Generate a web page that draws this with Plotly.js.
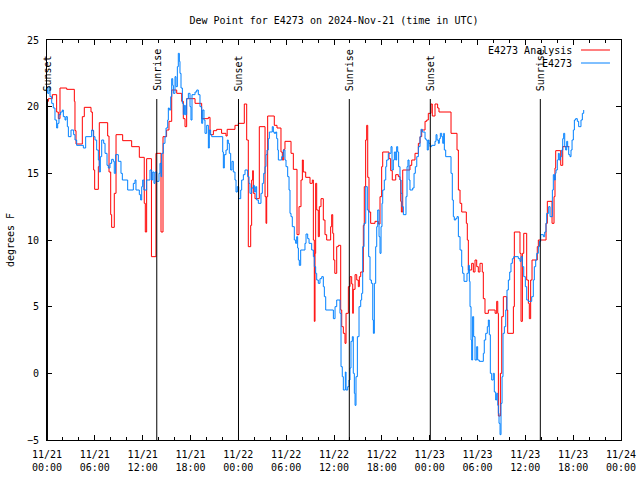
<!DOCTYPE html>
<html>
<head>
<meta charset="utf-8">
<script src="https://cdn.plot.ly/plotly-3.0.1.min.js"></script>
<style>html,body{margin:0;padding:0;background:#fff;}#chart{width:640px;height:480px;}</style>
</head>
<body>
<div id="chart"></div>
<script>
// Hours since 2024-11-21 00:00 UTC
var analysisHours = [0.0,0.17,0.67,1.21,1.42,1.63,2.47,3.43,3.51,3.64,4.43,4.68,5.52,5.69,5.85,5.98,6.44,6.56,7.61,7.78,7.99,8.11,8.44,8.66,9.49,10.62,11.58,12.2,12.33,12.5,13.1,13.67,14.3,14.55,15.0,15.3,15.64,16.27,16.9,17.1,17.31,17.52,18.57,19.4,20.24,20.45,20.87,21.28,21.9,22.45,22.6,23.58,24.0,24.75,25.05,25.25,25.55,25.67,25.8,25.88,26.09,26.63,27.35,27.47,27.56,27.68,28.51,28.85,29.35,29.52,29.69,29.85,30.61,30.9,31.36,31.61,31.86,32.03,32.15,32.45,32.99,33.28,33.41,33.53,33.62,33.7,33.83,34.03,34.16,34.37,34.66,34.87,35.08,35.58,35.71,35.84,35.96,36.1,36.34,36.55,36.84,36.97,37.17,37.38,37.51,37.8,38.01,38.22,38.35,38.42,38.64,38.85,39.05,39.18,39.35,39.68,39.8,39.97,40.1,40.23,40.39,40.6,41.14,41.56,41.77,41.98,42.11,42.9,43.11,43.31,43.74,44.07,44.28,44.37,44.45,44.62,45.53,45.75,46.16,46.58,46.79,47.0,47.42,47.63,47.83,48.17,48.33,48.67,49.0,49.17,50.68,51.43,51.6,51.81,52.02,52.6,52.72,52.85,53.27,53.48,53.69,53.9,54.1,54.31,54.6,54.73,54.94,55.36,56.21,56.41,56.54,56.62,56.87,57.04,57.24,57.66,57.79,58.5,58.62,59.33,59.46,59.63,59.8,60.17,60.38,60.5,60.67,60.84,61.5,61.63,62.6,62.76,63.35,63.6,63.72,63.81,64.44,64.69,65.52];
var analysisDewF = [20.4,20.6,20.9,19.6,19.1,21.4,21.3,20.4,18.2,17.2,19.25,19.95,19.6,18.2,15.25,13.8,15.5,18.8,17.8,15.1,11.9,10.95,13.5,17.9,17.45,17.0,16.2,12.75,10.6,16.1,8.75,16.5,10.6,17.75,18.25,18.9,21.25,21.0,20.4,19.1,18.5,20.6,20.25,19.1,19.2,17.9,18.2,18.3,18.0,17.8,18.3,18.6,18.75,20.2,17.5,9.5,11.1,14.5,15.2,13.5,13.1,18.5,13.25,11.25,13.25,19.3,18.6,18.4,16.6,16.0,16.8,17.4,16.5,15.3,10.4,12.5,14.5,16.0,15.1,14.7,14.25,14.5,10.0,3.9,9.0,14.25,12.25,10.25,12.5,13.1,11.5,10.4,10.0,11.0,11.9,10.5,8.5,7.5,9.5,9.6,4.75,3.5,3.0,2.25,4.5,6.5,7.25,6.7,4.5,6.3,7.4,7.0,6.5,7.25,7.6,11.1,14.0,17.5,18.6,14.7,12.1,11.25,11.4,11.2,13.25,15.5,16.6,16.1,15.2,14.5,14.9,14.75,14.5,12.9,12.1,15.25,15.6,16.0,16.5,17.25,17.75,18.25,18.9,19.0,19.5,20.2,19.3,20.2,19.9,19.6,18.0,16.75,13.75,12.75,12.1,11.25,10.0,7.75,8.25,7.6,8.5,8.0,7.6,8.25,7.6,5.6,4.5,4.75,4.5,5.4,4.5,-3.2,0.0,4.25,5.75,4.75,3.0,5.0,10.6,9.0,3.9,9.0,10.5,7.0,5.25,4.1,7.0,8.5,9.5,10.0,11.25,12.9,11.25,13.25,15.4,16.7,15.6,17.0,17.0];

var obsHours = [0.0,0.08,0.25,0.38,0.59,0.79,1.0,1.21,1.34,1.5,1.71,1.92,2.05,2.26,2.38,2.55,2.68,3.01,3.34,3.51,3.72,4.56,4.85,5.6,5.81,6.02,6.23,6.44,6.56,6.69,6.86,7.11,7.28,7.53,7.69,7.9,8.11,8.32,8.44,8.61,8.95,9.28,9.45,10.12,10.83,11.04,11.16,11.58,11.75,11.88,12.0,12.15,12.5,12.92,13.13,13.26,13.42,13.55,13.76,14.05,14.17,14.3,14.38,14.59,14.8,14.93,15.14,15.22,15.34,15.52,15.64,15.77,15.85,16.06,16.18,16.35,16.47,16.6,16.68,16.81,16.98,17.1,17.23,17.35,17.52,17.73,17.94,18.06,18.19,18.57,18.78,18.98,19.19,19.4,19.53,19.69,19.82,20.03,20.24,20.36,20.53,20.66,22.04,22.12,22.24,22.45,22.62,22.74,22.87,23.04,23.2,23.37,23.58,23.71,23.87,24.05,24.3,24.42,24.63,24.84,25.17,25.34,25.46,25.67,25.88,26.01,26.18,26.3,26.51,26.84,27.01,27.18,27.35,27.47,27.6,27.76,27.89,28.26,28.39,28.51,28.68,28.81,28.94,29.02,29.44,29.64,29.85,29.98,30.19,30.36,30.48,30.61,30.77,31.02,31.19,31.32,31.44,31.53,31.65,31.82,32.36,32.49,32.7,32.87,33.2,33.41,33.53,33.7,33.83,34.03,34.24,34.46,34.66,34.79,34.96,35.92,36.13,36.34,36.75,36.88,37.04,37.17,37.42,37.51,37.72,37.88,38.01,38.13,38.3,38.42,38.55,38.64,38.76,38.93,39.14,39.35,39.47,39.6,39.77,39.98,40.18,40.35,40.52,40.69,40.86,40.94,41.06,41.23,41.36,41.48,41.65,41.77,41.9,42.02,42.11,42.31,42.49,42.61,42.81,43.15,43.28,43.44,43.57,43.74,43.86,43.99,44.11,44.28,44.41,44.53,44.7,45.03,45.16,45.28,45.41,45.53,45.87,46.04,46.2,46.38,46.58,46.79,46.91,47.08,47.42,47.54,47.7,47.83,47.92,48.04,48.25,48.67,48.8,48.92,49.09,49.21,49.34,49.51,49.64,49.76,49.84,50.01,50.68,50.84,50.97,51.09,51.26,51.43,51.6,51.81,52.02,52.14,52.31,52.68,52.85,52.98,53.06,53.19,53.27,53.39,53.52,53.69,53.9,54.02,54.22,54.73,54.85,55.03,55.23,55.36,55.48,55.61,55.78,55.98,56.11,56.28,56.41,56.54,56.62,56.7,56.83,56.95,57.08,57.2,57.37,57.54,57.7,57.87,58.04,58.2,58.37,58.54,59.12,59.33,59.46,59.63,59.8,60.0,60.17,60.38,60.8,61.0,61.13,61.3,61.43,61.63,61.76,61.93,62.26,62.43,62.59,62.68,62.93,63.1,63.39,63.51,63.64,63.76,63.85,64.01,64.14,64.26,64.39,64.56,64.69,64.81,64.94,65.06,65.19,65.31,65.44,65.6,65.73,65.86,66.02,66.15,66.31,66.52,66.69,66.85,66.98,67.15,67.32];
var obsDewF = [21.25,21.0,21.5,20.75,20.25,19.9,19.0,18.4,18.75,19.4,19.6,19.75,19.25,19.0,19.25,18.5,17.75,18.25,17.9,17.5,17.1,16.9,17.75,18.25,17.75,17.5,16.75,16.0,15.1,16.25,17.5,17.25,16.5,15.6,15.4,15.75,16.05,15.9,15.0,16.4,15.9,15.0,14.5,13.75,14.25,14.5,13.75,13.4,13.0,14.0,14.5,13.75,14.5,15.25,14.5,15.1,14.25,15.1,14.4,15.0,15.75,14.75,16.5,17.25,17.75,18.4,19.0,19.9,19.75,20.75,22.1,21.6,21.0,22.25,21.5,23.0,24.0,23.4,22.5,21.4,20.25,19.4,20.1,19.4,20.6,21.0,20.0,19.0,20.9,21.1,21.25,20.9,20.0,18.75,19.75,19.0,18.0,18.6,16.9,18.25,17.9,17.75,16.6,15.4,16.4,16.75,17.5,17.25,16.5,15.25,15.9,15.1,14.5,13.6,14.0,13.1,13.75,14.5,14.9,15.25,14.75,14.25,13.5,13.9,14.1,13.6,14.0,13.0,12.75,13.5,14.25,15.0,15.5,16.4,16.75,17.6,18.1,18.5,18.1,18.0,18.1,17.6,16.75,16.0,16.25,16.75,16.0,15.5,14.75,13.75,12.0,11.75,11.0,10.0,9.75,10.25,9.4,8.5,8.1,9.25,9.75,10.45,10.1,9.75,9.25,8.75,8.0,7.5,7.0,6.75,7.1,7.25,6.5,5.75,4.75,4.1,5.0,5.5,4.5,0.5,-0.25,-1.25,0.1,-1.25,-1.0,-0.5,0.4,2.4,2.75,0.0,-1.5,-2.4,-0.25,2.75,5.0,5.5,6.0,9.5,11.25,14.0,12.25,8.75,7.0,6.75,4.0,3.0,6.75,9.5,11.0,12.25,10.25,9.0,11.0,12.75,13.75,14.5,15.5,16.0,16.5,17.0,15.25,16.0,16.6,16.0,17.0,16.6,15.5,14.5,13.5,12.5,11.9,13.25,15.5,16.0,14.5,13.75,13.9,15.0,15.5,16.25,17.0,17.75,18.3,18.1,17.6,17.5,16.75,17.5,17.25,17.0,17.1,17.4,17.9,17.5,17.25,17.6,18.0,17.75,17.25,18.0,16.75,16.25,15.0,13.0,11.75,11.5,11.6,11.75,10.25,9.25,8.0,7.5,6.9,7.5,8.1,6.9,5.0,2.5,1.0,4.25,2.75,1.0,2.0,1.0,0.9,1.5,2.5,3.0,3.5,4.0,2.9,0.0,-0.5,0.0,-1.4,-2.0,-1.5,-2.4,-3.0,-3.75,-4.6,-2.25,-0.25,3.0,3.5,4.75,6.25,7.0,7.6,8.25,8.6,8.75,8.6,8.4,8.75,8.0,7.25,6.5,5.5,5.4,5.75,7.0,8.0,8.5,9.0,9.5,9.9,10.4,10.25,10.6,11.25,12.0,12.5,11.75,13.75,14.9,14.5,15.0,15.25,16.0,16.5,16.0,16.25,16.75,17.6,18.0,17.0,16.75,17.4,17.0,16.4,16.25,16.75,17.5,18.25,19.0,19.1,18.9,18.5,18.5,19.0,19.5,19.75];

var eventHours = [0.06, 13.77, 24.02, 37.92, 48.08, 61.88];
var eventLabels = ["Sunset", "Sunrise", "Sunset", "Sunrise", "Sunset", "Sunrise"];
var seriesNames = ["E4273 Analysis", "E4273"];
var seriesColors = ["#ff0000", "#0080ff"];

var T0 = Date.UTC(2024, 10, 21, 0, 0, 0);
function toTime(h) {
  var d = new Date(T0 + Math.round(h * 3600000));
  return d.toISOString().replace('T', ' ').slice(0, 19);
}

var FONT = "DejaVu Sans Mono, monospace";
var fontSize = 10;

var traces = [
  {x: analysisHours.map(toTime), y: analysisDewF, type: 'scatter', mode: 'lines',
   line: {color: seriesColors[0], width: 1, shape: 'hv'}, name: seriesNames[0], showlegend: false},
  {x: obsHours.map(toTime), y: obsDewF, type: 'scatter', mode: 'lines',
   line: {color: seriesColors[1], width: 1, shape: 'hv'}, name: seriesNames[1], showlegend: false}
];

var shapes = [];
var annotations = [];
eventHours.forEach(function (h, i) {
  shapes.push({type: 'line', xref: 'x', yref: 'paper', x0: toTime(h), x1: toTime(h), y0: 0, y1: 0.8525,
               line: {color: '#000', width: 1}});
  annotations.push({xref: 'x', yref: 'paper', x: toTime(h), y: 0.8675, xanchor: 'center', yanchor: 'bottom',
                    text: eventLabels[i], textangle: -90, showarrow: false, xshift: 1,
                    font: {family: FONT, size: fontSize, color: '#000'}});
});

// legend (text on the left, sample line on the right, like the original)
var legY = [0.975, 0.9425];
seriesNames.forEach(function (nm, i) {
  annotations.push({xref: 'paper', yref: 'paper', x: 0.9181, y: legY[i], xanchor: 'right', yanchor: 'middle',
                    text: nm, showarrow: false, font: {family: FONT, size: fontSize, color: '#000'}});
  shapes.push({type: 'line', xref: 'paper', yref: 'paper', x0: 0.9303, x1: 0.9808, y0: legY[i], y1: legY[i],
               line: {color: seriesColors[i], width: 1}});
});

var layout = {
  width: 640, height: 480,
  margin: {l: 47, r: 19, t: 40, b: 40},
  paper_bgcolor: '#fff', plot_bgcolor: '#fff',
  font: {family: FONT, size: fontSize, color: '#000'},
  title: {text: 'Dew Point for E4273 on 2024-Nov-21 (time in UTC)', x: 0.5, xref: 'paper',
          y: 1 - 20 / 480, yref: 'container', yanchor: 'middle', font: {family: FONT, size: fontSize}},
  xaxis: {
    type: 'date', range: [toTime(0), toTime(72)],
    tick0: toTime(0), dtick: 6 * 3600000, tickformat: '%m/%d<br>%H:%M',
    ticks: 'inside', ticklen: 5, tickcolor: '#000', tickwidth: 1,
    minor: {dtick: 2 * 3600000, ticks: 'inside', ticklen: 3, tickcolor: '#000'},
    showline: true, linecolor: '#000', linewidth: 1, mirror: 'ticks',
    showgrid: false, zeroline: false, fixedrange: true,
    ticklabelstandoff: 5,
    tickfont: {family: FONT, size: fontSize}
  },
  yaxis: {
    range: [-5, 25], dtick: 5, tick0: 0,
    ticks: 'inside', ticklen: 5, tickcolor: '#000',
    showline: true, linecolor: '#000', linewidth: 1, mirror: 'ticks',
    showgrid: false, zeroline: false, fixedrange: true,
    ticklabelstandoff: 5,
    title: {text: 'degrees F', standoff: 10, font: {family: FONT, size: fontSize}},
    tickfont: {family: FONT, size: fontSize}
  },
  shapes: shapes,
  annotations: annotations,
  showlegend: false
};

Plotly.newPlot('chart', traces, layout, {staticPlot: true, displayModeBar: false});
</script>
</body>
</html>
